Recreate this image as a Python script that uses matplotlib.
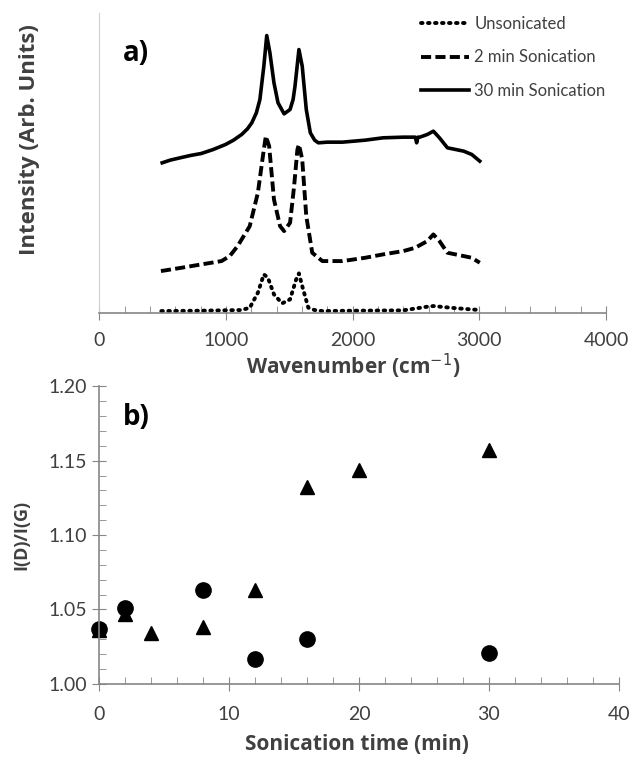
import numpy as np
import matplotlib
matplotlib.use("Agg")
import matplotlib.pyplot as plt
from matplotlib.ticker import MultipleLocator, FormatStrFormatter

plt.rcParams['font.family'] = ['Lato', 'DejaVu Sans']

# spectra (arbitrary intensity units)
wn_30 = [497, 560, 650, 720, 806, 900, 997, 1060, 1124, 1170, 1204, 1240, 1268, 1299, 1322, 1347, 1379,
         1411, 1459, 1506, 1530, 1545, 1576, 1602, 1634, 1666, 1700, 1729, 1800, 1920, 2100, 2239, 2400,
         2494, 2505, 2515, 2530, 2589, 2637, 2685, 2748, 2876, 2940, 3003]
int_30 = [450, 458, 466, 472, 478, 490, 505, 518, 535, 552, 570, 600, 640, 740, 832, 780, 690,
          630, 597, 610, 640, 680, 790, 740, 610, 540, 518, 510, 512, 512, 518, 525, 527,
          527, 510, 527, 527, 535, 545, 525, 495, 485, 475, 455]

wn_2 = [487, 650, 806, 965, 1030, 1092, 1188, 1252, 1299, 1315, 1341, 1379, 1427, 1459, 1506, 1538,
        1564, 1576, 1602, 1634, 1681, 1761, 1920, 2100, 2239, 2400, 2494, 2589, 2637, 2685, 2748,
        2876, 2940, 3003]
int_2 = [125, 135, 145, 155, 170, 200, 260, 360, 490, 530, 500, 340, 260, 245, 270, 380,
         490, 505, 460, 290, 180, 155, 155, 165, 175, 185, 195, 215, 235, 215, 180,
         170, 165, 150]

wn_0 = [490, 800, 1124, 1188, 1252, 1299, 1331, 1379, 1443, 1506, 1554, 1576, 1602, 1650, 1700,
        1761, 2000, 2398, 2589, 2637, 2800, 3003]
int_0 = [5, 6, 8, 15, 60, 115, 105, 55, 28, 40, 100, 118, 80, 15, 8,
         5, 6, 7, 18, 20, 14, 8]

# I(D)/I(G) vs sonication time
t_circ = [0, 2, 8, 12, 16, 30]
r_circ = [1.037, 1.051, 1.063, 1.017, 1.030, 1.021]
t_tri = [0, 2, 4, 8, 12, 16, 20, 30]
r_tri = [1.036, 1.047, 1.034, 1.038, 1.063, 1.132, 1.144, 1.157]

grey = '#868686'
txt = '#404040'
lab_font = dict(family=['Open Sans', 'DejaVu Sans'], fontweight='bold', color=txt)

fig = plt.figure(figsize=(6.32, 7.59), dpi=100)
ax1 = fig.add_axes([0.157, 0.588, 0.802, 0.395])
ax2 = fig.add_axes([0.157, 0.099, 0.822, 0.392])

# panel a
ax1.plot(wn_0, int_0, color='black', linestyle=(0, (0.4, 1.4)), lw=2.8,
         dash_capstyle='round', label='Unsonicated')
ax1.plot(wn_2, int_2, color='black', linestyle=(0, (2.6, 1.1)), lw=2.8, label='2 min Sonication')
ax1.plot(wn_30, int_30, color='black', lw=2.6, label='30 min Sonication')
ax1.set_xlim(0, 4000)
ax1.set_ylim(0, 900)
ax1.xaxis.set_major_locator(MultipleLocator(1000))
ax1.xaxis.set_minor_locator(MultipleLocator(200))
ax1.tick_params(axis='x', which='major', direction='inout', length=10, color=grey,
                labelsize=14, labelcolor=txt, pad=9)
ax1.tick_params(axis='x', which='minor', direction='in', length=5, color=grey)
ax1.set_yticks([])
for s in ['top', 'right']:
    ax1.spines[s].set_visible(False)
ax1.spines['bottom'].set_color(grey)
ax1.spines['left'].set_color('#d0d0d0')
ax1.spines['bottom'].set_linewidth(1.2)
ax1.set_xlabel('Wavenumber (cm$^{-1}$)', fontsize=15, va='center', **lab_font)
ax1.xaxis.set_label_coords(0.5, -0.18)
ax1.set_ylabel('Intensity (Arb. Units)', fontsize=16, va='center', **lab_font)
ax1.yaxis.set_label_coords(-0.138, 0.577)
ax1.text(0.046, 0.84, 'a)', transform=ax1.transAxes, fontsize=20, fontweight='bold',
         family=['Open Sans', 'DejaVu Sans'])
leg = ax1.legend(loc='upper left', bbox_to_anchor=(0.635, 0.99), frameon=False, fontsize=12,
                 handlelength=2.9, handletextpad=0.3, labelspacing=1.05,
                 borderpad=0, borderaxespad=0)
for t in leg.get_texts():
    t.set_color(txt)

# panel b
ax2.plot(t_circ, r_circ, 'o', color='black', ms=11, clip_on=False)
ax2.plot(t_tri, r_tri, '^', color='black', ms=9.5, clip_on=False)
ax2.set_xlim(0, 40)
ax2.set_ylim(1.0, 1.2)
ax2.xaxis.set_major_locator(MultipleLocator(10))
ax2.xaxis.set_minor_locator(MultipleLocator(2))
ax2.yaxis.set_major_locator(MultipleLocator(0.05))
ax2.yaxis.set_minor_locator(MultipleLocator(0.01))
ax2.yaxis.set_major_formatter(FormatStrFormatter('%.2f'))
ax2.tick_params(which='major', direction='inout', length=10, color=grey,
                labelsize=14, labelcolor=txt)
ax2.tick_params(axis='x', which='major', pad=11)
ax2.tick_params(which='minor', direction='in', length=5, color=grey)
for s in ['top', 'right']:
    ax2.spines[s].set_visible(False)
for s in ['bottom', 'left']:
    ax2.spines[s].set_color(grey)
    ax2.spines[s].set_linewidth(1.2)
ax2.set_xlabel('Sonication time (min)', fontsize=15, va='center', **lab_font)
ax2.xaxis.set_label_coords(0.496, -0.205)
ax2.set_ylabel('I(D)/I(G)', fontsize=13, va='center', **lab_font)
ax2.yaxis.set_label_coords(-0.15, 0.5)
ax2.text(0.046, 0.87, 'b)', transform=ax2.transAxes, fontsize=20, fontweight='bold',
         family=['Open Sans', 'DejaVu Sans'])

fig.savefig('out.png', dpi=100)
